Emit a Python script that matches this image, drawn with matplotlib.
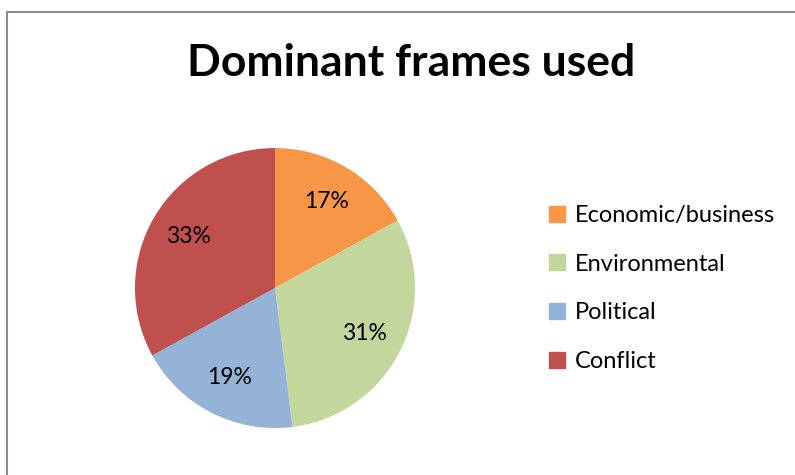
import matplotlib
import matplotlib.pyplot as plt
from matplotlib.patches import Rectangle
from matplotlib.lines import Line2D

categories = ["Economic/business", "Environmental", "Political", "Conflict"]
shares = [17, 31, 19, 33]
colors = ["#F79646", "#C3D69B", "#95B3D7", "#C0504D"]

plt.rcParams["font.family"] = ["Lato", "DejaVu Sans"]

fig = plt.figure(figsize=(7.95, 4.75), dpi=100)

# grey chart border, cut off at right and bottom like the screenshot
fig.patches.append(Rectangle((7 / 795, -0.1), 1.0, 1 - 12 / 475 + 0.1,
                             transform=fig.transFigure, fill=False,
                             edgecolor="#8c8c8c", linewidth=1.5))

ax = fig.add_axes([0.1698, 0.0989, 0.3522, 0.5895])
wedges, texts, autotexts = ax.pie(shares, colors=colors, startangle=90, counterclock=False,
                                  autopct="%d%%", pctdistance=0.72,
                                  textprops={"fontsize": 16.5, "color": "black"})
ax.set_xlim(-1, 1)
ax.set_ylim(-1, 1)
ax.set_aspect("equal")

fig.text(411 / 795, 1 - 63 / 475, "Dominant frames used", ha="center", va="center",
         fontsize=32, fontweight="bold")

handles = [Line2D([], [], marker="s", linestyle="none", markersize=11,
                  markerfacecolor=c, markeredgecolor=c) for c in colors]
fig.legend(handles, categories, loc="upper left", bbox_to_anchor=(548 / 795, 1 - 205 / 475),
           frameon=False, fontsize=17, handlelength=0.8, handletextpad=0.35,
           labelspacing=1.17, borderaxespad=0, borderpad=0)

fig.savefig("out.png", dpi=100)
